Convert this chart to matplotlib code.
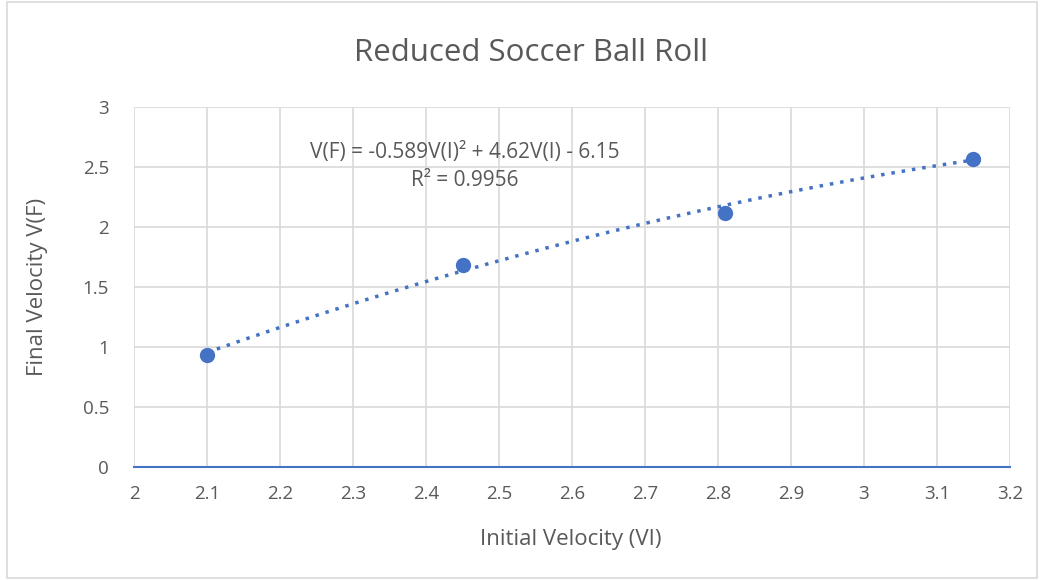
import numpy as np
import matplotlib
matplotlib.use("Agg")
import matplotlib.pyplot as plt
from matplotlib.patches import Rectangle

x_vals = [2.1, 2.45, 2.81, 3.15]
y_vals = [0.93, 1.68, 2.12, 2.57]
coef = [-0.589, 4.62, -6.15]
r2 = 0.9956
x_ticks = [2, 2.1, 2.2, 2.3, 2.4, 2.5, 2.6, 2.7, 2.8, 2.9, 3, 3.1, 3.2]
y_ticks = [0, 0.5, 1, 1.5, 2, 2.5, 3]

plt.rcParams['font.family'] = ['Open Sans', 'DejaVu Sans']
plt.rcParams['mathtext.fontset'] = 'custom'
plt.rcParams['mathtext.rm'] = 'Open Sans'
gray = '#595959'
blue = '#4472C4'
W, H = 1044, 580

fig = plt.figure(figsize=(10.44, 5.8), dpi=100)
ax = fig.add_axes([134/W, 1-467/H, (1010-134)/W, (467-107)/H])

fig.patches.append(Rectangle((7/W, 2/H), (1037-7)/W, 1-4/H, transform=fig.transFigure,
                             fill=False, edgecolor='#d9d9d9', linewidth=1.2))

xs = np.linspace(min(x_vals), max(x_vals), 200)
ax.plot(xs, np.polyval(coef, xs), linestyle=(0, (1, 2)), color=blue, linewidth=2.5, zorder=3)
ax.plot(x_vals, y_vals, 'o', color=blue, markersize=10, zorder=4)

ax.set_xlim(2, 3.2)
ax.set_ylim(0, 3)
ax.set_xticks(x_ticks)
ax.set_xticklabels([f"{t:g}" for t in x_ticks])
ax.set_yticks(y_ticks)
ax.set_yticklabels([f"{t:g}" for t in y_ticks])
ax.grid(True, color='#d9d9d9', linewidth=1.2)
ax.set_axisbelow(True)
for s in ['top', 'right', 'left']:
    ax.spines[s].set_visible(False)
ax.spines['bottom'].set_color(blue)
ax.spines['bottom'].set_linewidth(1.5)
ax.tick_params(length=0, labelsize=13.5, labelcolor=gray)
ax.tick_params(axis='x', pad=13)
ax.tick_params(axis='y', pad=18)

fig.text(571/W, 1-540/H, 'Initial Velocity (VI)', fontsize=16, color=gray, ha='center', va='center')
fig.text(38/W, 1-287/H, 'Final Velocity V(F)', fontsize=16, color=gray, ha='center', va='center', rotation=90)
fig.text(531/W, 1-53/H, 'Reduced Soccer Ball Roll', fontsize=22.5, color=gray, ha='center', va='center')

fig.text(465/W, 1-152/H, 'V(F) = -0.589V(I)² + 4.62V(I) - 6.15', fontsize=15, color=gray,
         ha='center', va='center')
fig.text(465/W, 1-181/H, f'R² = {r2}', fontsize=15, color=gray, ha='center', va='center')

fig.savefig('out.png', dpi=100)
